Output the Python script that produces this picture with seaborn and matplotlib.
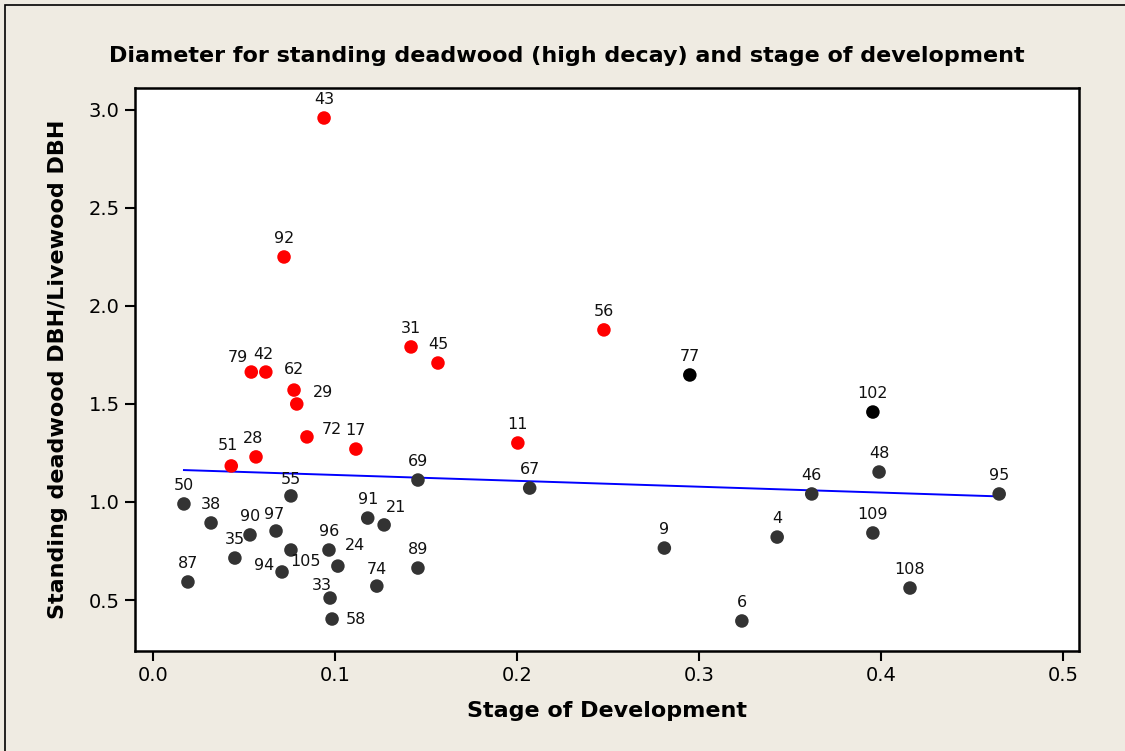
import numpy as np
import pandas as pd
import matplotlib
matplotlib.use("Agg")
import matplotlib.pyplot as plt
import seaborn as sns

# Data
ids = [43, 92, 79, 42, 62, 29, 72, 17, 51, 28, 31, 45, 11, 56,
       77, 102,
       48, 95, 46, 109, 108, 4, 6, 9, 67, 69, 89, 74, 21, 91, 24, 96,
       33, 58, 105, 94, 55, 97, 90, 35, 38, 50, 87]
stage = [0.094, 0.072, 0.054, 0.062, 0.0775, 0.079, 0.0846, 0.1115, 0.043, 0.0566, 0.1418, 0.1566, 0.2005, 0.2478,
         0.295, 0.3956,
         0.399, 0.465, 0.362, 0.3956, 0.416, 0.343, 0.3236, 0.281, 0.207, 0.1456, 0.1456, 0.123, 0.127, 0.118, 0.1016, 0.0967,
         0.0973, 0.0984, 0.0758, 0.0709, 0.0758, 0.0676, 0.0533, 0.045, 0.0319, 0.017, 0.0192]
ratio = [2.959, 2.25, 1.663, 1.663, 1.571, 1.50, 1.332, 1.270, 1.184, 1.230, 1.791, 1.709, 1.301, 1.878,
         1.648, 1.459,
         1.153, 1.041, 1.041, 0.842, 0.561, 0.821, 0.393, 0.765, 1.071, 1.112, 0.663, 0.571, 0.883, 0.918, 0.673, 0.755,
         0.51, 0.403, 0.755, 0.643, 1.031, 0.852, 0.832, 0.714, 0.893, 0.990, 0.592]
group = ["high"] * 14 + ["outlier"] * 2 + ["normal"] * 27

# fitted line shown in the chart
fit_intercept = 1.168
fit_slope = -0.30

df = pd.DataFrame({"id": ids, "stage": stage, "ratio": ratio, "group": group})

bg = "#efebe2"
fig = plt.figure(figsize=(11.25, 7.51), dpi=100, facecolor=bg)
ax = fig.add_axes([0.12, 0.1332, 0.839, 0.7496])
ax.set_facecolor("white")

sns.scatterplot(data=df, x="stage", y="ratio", hue="group",
                palette={"high": "#ff0000", "outlier": "#000000", "normal": "#333333"},
                s=95, edgecolor="none", legend=False, ax=ax, zorder=3)

# regression line over the data range
xs = np.array([df["stage"].min(), df["stage"].max()])
ax.plot(xs, fit_intercept + fit_slope * xs, color="#0000ff", lw=1.4, zorder=2)

# point labels (offsets in pixels): default centred above, some moved aside
offsets = {29: (16, 4, "left", "bottom"), 72: (15, 0, "left", "bottom"),
           58: (14, 0, "left", "center"), 94: (-8, 6, "right", "center"),
           105: (-1, -4, "left", "top"), 24: (7, 13, "left", "bottom"),
           33: (-8, 5, "center", "bottom"), 79: (-13, 7, "center", "bottom"),
           42: (-2, 10, "center", "bottom"), 21: (12, 10, "center", "bottom"),
           51: (-3, 13, "center", "bottom"), 28: (-3, 11, "center", "bottom"),
           97: (-2, 9, "center", "bottom"), 55: (0, 9, "center", "bottom"),
           74: (0, 9, "center", "bottom"), 62: (0, 13, "center", "bottom")}
for _, r in df.iterrows():
    dx, dy, ha, va = offsets.get(r["id"], (0, 11, "center", "bottom"))
    ax.annotate(str(r["id"]), (r["stage"], r["ratio"]), xytext=(dx * 0.72, dy * 0.72),
                textcoords="offset points", ha=ha, va=va,
                fontsize=11.5, color="#111111", zorder=4)

ax.set_xlim(-0.0099, 0.5088)
ax.set_ylim(0.24, 3.112)
ax.set_xticks([0.0, 0.1, 0.2, 0.3, 0.4, 0.5])
ax.set_yticks([0.5, 1.0, 1.5, 2.0, 2.5, 3.0])
ax.set_xticklabels(["0.0", "0.1", "0.2", "0.3", "0.4", "0.5"])
ax.set_yticklabels(["0.5", "1.0", "1.5", "2.0", "2.5", "3.0"])
ax.tick_params(direction="out", length=7, width=1.5, labelsize=14, color="black", pad=4)
for sp in ax.spines.values():
    sp.set_linewidth(1.8)
    sp.set_color("black")

ax.set_xlabel("Stage of Development", fontsize=16, fontweight="bold", labelpad=11)
ax.set_ylabel("Standing deadwood DBH/Livewood DBH", fontsize=16, fontweight="bold", labelpad=15)
fig.text(0.504, 0.926, "Diameter for standing deadwood (high decay) and stage of development",
         ha="center", va="center", fontsize=16, fontweight="bold")

# outer frame
fig.patches.append(plt.Rectangle((5 / 1125, -0.1), 1.2, 1 - 5 / 751 + 0.1, transform=fig.transFigure,
                                 fill=False, edgecolor="black", lw=1.2))

fig.savefig("out.png", dpi=100, facecolor=bg)
